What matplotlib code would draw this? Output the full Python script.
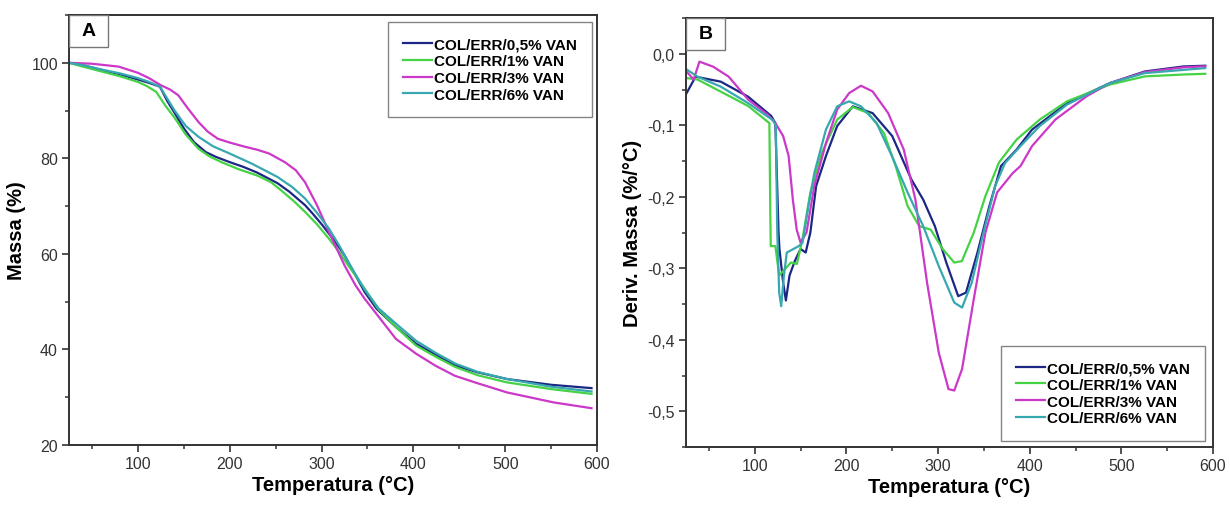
import matplotlib
matplotlib.use('Agg')
import matplotlib.pyplot as plt
from matplotlib.patches import Rectangle
from matplotlib.ticker import MultipleLocator, FuncFormatter

plt.rcParams['font.family'] = ['Liberation Sans', 'DejaVu Sans']

labels = ['COL/ERR/0,5% VAN', 'COL/ERR/1% VAN', 'COL/ERR/3% VAN', 'COL/ERR/6% VAN']
colors = ['#1c2785', '#45d245', '#cc38c8', '#38a8b0']

# Panel A - TGA (massa %)
tga_x = [
    [25, 40, 60, 80, 100, 112, 124, 132, 140, 150, 161, 174, 185, 200, 215, 230, 252, 265, 282, 290, 301, 315,
     325, 347, 360, 381, 403, 425, 446, 470, 502, 550, 594],
    [25, 40, 60, 80, 100, 110, 120, 130, 140, 152, 166, 178, 191, 210, 230, 245, 256, 270, 282, 295, 308, 320,
     329, 347, 362, 381, 403, 425, 446, 470, 502, 550, 594],
    [25, 50, 79, 100, 112, 125, 135, 144, 155, 166, 176, 187, 200, 217, 230, 243, 260, 272, 282, 295, 308, 325,
     337, 347, 364, 381, 403, 424, 445, 467, 502, 553, 594],
    [25, 40, 60, 80, 100, 112, 124, 132, 140, 152, 166, 182, 200, 225, 252, 268, 282, 295, 308, 320, 329, 347,
     362, 381, 403, 425, 446, 470, 502, 550, 594],
]
tga_y = [
    [100, 99.5, 98.5, 97.6, 96.5, 95.8, 95, 92, 89.5, 86.3, 83.4, 81.3, 80.3, 79.2, 78.2, 77, 74.8, 73, 70.2,
     68.5, 66, 62.5, 59.7, 52, 48.5, 44.7, 41.2, 38.8, 36.6, 35.2, 33.8, 32.6, 31.9],
    [100, 99.2, 98.2, 97.2, 96, 95.1, 93.9, 91, 88.5, 85, 82, 80.4, 79.2, 77.7, 76.4, 75, 73.3, 71, 68.8, 66.2,
     63.2, 60.2, 57.6, 52.7, 48.4, 44.7, 40.8, 38.4, 36.3, 34.6, 33.1, 31.7, 30.7],
    [100, 99.8, 99.2, 97.9, 96.8, 95.3, 94.4, 93.2, 90.3, 87.6, 85.6, 84.1, 83.3, 82.4, 81.8, 81, 79.2, 77.5,
     75, 70.2, 64.6, 57.6, 53.4, 50.6, 46.4, 42.2, 39.1, 36.6, 34.5, 33.1, 31, 28.9, 27.7],
    [100, 99.5, 98.6, 97.8, 96.8, 96, 95, 92.5, 90, 86.8, 84.5, 82.5, 81, 78.8, 76.1, 74, 71.6, 68.6, 65.3,
     61.5, 58.3, 52.5, 48.6, 45.4, 41.8, 39.2, 37, 35.3, 33.8, 32.2, 31.2],
]

# Panel B - DTG (deriv. massa %/°C)
dtg_x = [
    [25.7, 35.5, 63, 92.8, 118, 122.5, 126, 127, 131, 134, 138, 143.7, 150, 155.6, 160.7, 167, 177.7, 190, 207,
     228.6, 250, 271, 283.8, 296.5, 309, 322, 330.5, 343, 356, 368.7, 385.7, 402.6, 440.8, 487.5, 525.7, 568, 591.5],
    [25.7, 37.6, 63, 92.8, 116, 117, 117.5, 122.5, 126.7, 139.5, 146, 152, 160.7, 173, 190, 207, 224, 241, 254,
     266.8, 279.5, 292, 305, 317.7, 326, 339, 351.7, 366.5, 385.7, 411, 440.8, 487.5, 525.7, 568, 591.5],
    [25.7, 33.4, 39.7, 54.6, 71.6, 92.8, 114, 122.5, 131, 137, 141.6, 145.8, 150, 156.5, 165, 177.7, 190, 203,
     215.9, 228.6, 245.6, 262.6, 275.3, 288, 300.8, 311.4, 317.7, 326.2, 339, 351.7, 364.4, 381.4, 390, 402.6,
     428, 462, 487.5, 525.7, 568, 591.5],
    [25.7, 37.6, 63, 92.8, 120, 123, 124.6, 126.7, 128.9, 131.8, 135, 138, 148, 152.2, 158.6, 165, 177.7, 190, 203,
     216, 233, 250, 266.8, 283.8, 300.8, 317.7, 326.2, 336.8, 349.6, 362.3, 373, 390, 411, 440.8, 487.5, 525.7, 591.5],
]
dtg_y = [
    [-0.055, -0.032, -0.039, -0.06, -0.087, -0.097, -0.25, -0.273, -0.32, -0.345, -0.31, -0.29, -0.273, -0.278,
     -0.25, -0.185, -0.143, -0.101, -0.0735, -0.083, -0.115, -0.176, -0.204, -0.241, -0.292, -0.339, -0.334,
     -0.278, -0.213, -0.157, -0.134, -0.106, -0.069, -0.041, -0.0247, -0.0177, -0.0167],
    [-0.034, -0.036, -0.053, -0.073, -0.097, -0.222, -0.269, -0.269, -0.31, -0.292, -0.294, -0.26, -0.194, -0.139,
     -0.092, -0.0744, -0.083, -0.111, -0.158, -0.213, -0.241, -0.246, -0.273, -0.292, -0.29, -0.25, -0.199,
     -0.152, -0.12, -0.092, -0.0665, -0.043, -0.0316, -0.029, -0.028],
    [-0.025, -0.036, -0.011, -0.018, -0.032, -0.064, -0.085, -0.097, -0.115, -0.143, -0.204, -0.246, -0.264,
     -0.25, -0.185, -0.125, -0.078, -0.055, -0.0447, -0.0526, -0.083, -0.134, -0.204, -0.32, -0.418, -0.469,
     -0.471, -0.441, -0.343, -0.25, -0.194, -0.167, -0.157, -0.129, -0.092, -0.0595, -0.041, -0.0255, -0.019,
     -0.0175],
    [-0.022, -0.032, -0.046, -0.069, -0.093, -0.101, -0.25, -0.334, -0.353, -0.311, -0.278, -0.276, -0.269,
     -0.264, -0.213, -0.167, -0.106, -0.0735, -0.0665, -0.0735, -0.097, -0.144, -0.194, -0.241, -0.297, -0.348,
     -0.355, -0.32, -0.25, -0.185, -0.153, -0.129, -0.101, -0.071, -0.041, -0.027, -0.02],
]

fig = plt.figure(figsize=(12.3, 5.06), dpi=100)
axA = fig.add_axes([0.0561, 0.1186, 0.4293, 0.8498])
axB = fig.add_axes([0.5577, 0.1146, 0.4285, 0.8478])


def style(ax):
    for s in ax.spines.values():
        s.set_color('#333333')
        s.set_linewidth(1.4)
    ax.tick_params(which='major', direction='out', length=5, width=1.2, colors='#333333',
                   labelsize=11.5, top=False, right=False, pad=3)
    ax.tick_params(which='minor', direction='out', length=3, width=1.1, colors='#333333',
                   top=False, right=False)
    ax.set_xlim(25, 600)
    ax.xaxis.set_major_locator(MultipleLocator(100))
    ax.xaxis.set_minor_locator(MultipleLocator(50))
    ax.set_xlabel('Temperatura (°C)', fontsize=14.5, fontweight='bold', labelpad=3)


def panel_tag(ax, letter):
    # small boxed letter sitting in the top-left corner of the axes
    ax.add_patch(Rectangle((0, 1 - 0.074), 0.074, 0.074, transform=ax.transAxes, fc='white',
                           ec='#777777', lw=1.0, zorder=5))
    ax.text(0.037, 1 - 0.037, letter, transform=ax.transAxes, fontsize=14, fontweight='bold',
            ha='center', va='center', zorder=6)


legend_kw = dict(prop={'weight': 'bold', 'size': 11}, frameon=True, fancybox=False, edgecolor='#666666',
                 handlelength=1.9, handletextpad=0.1, labelspacing=0.18, borderpad=1.0, borderaxespad=0)

for i in range(4):
    axA.plot(tga_x[i], tga_y[i], color=colors[i], lw=1.6, label=labels[i])
style(axA)
axA.set_ylim(20, 110)
axA.yaxis.set_major_locator(MultipleLocator(20))
axA.yaxis.set_minor_locator(MultipleLocator(10))
axA.set_ylabel('Massa (%)', fontsize=14.5, fontweight='bold', labelpad=4)
legA = axA.legend(loc='upper right', bbox_to_anchor=(0.99, 0.983), **legend_kw)
legA.get_frame().set_linewidth(1.0)
panel_tag(axA, 'A')

for i in range(4):
    axB.plot(dtg_x[i], dtg_y[i], color=colors[i], lw=1.6, label=labels[i])
style(axB)
axB.set_ylim(-0.55, 0.05)
axB.yaxis.set_major_locator(MultipleLocator(0.1))
axB.yaxis.set_minor_locator(MultipleLocator(0.05))
axB.yaxis.set_major_formatter(FuncFormatter(lambda v, p: ('%.1f' % v).replace('.', ',').replace('-0,0', '0,0')))
axB.set_ylabel('Deriv. Massa (%/°C)', fontsize=14.5, fontweight='bold', labelpad=4)
legB = axB.legend(loc='lower right', bbox_to_anchor=(0.985, 0.015), **legend_kw)
legB.get_frame().set_linewidth(1.0)
panel_tag(axB, 'B')

fig.savefig('out.png', dpi=100)
